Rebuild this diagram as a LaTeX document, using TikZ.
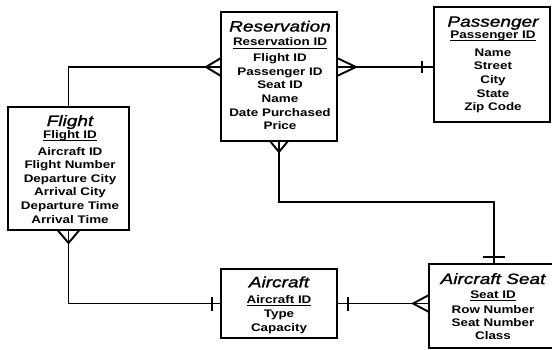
\documentclass[tikz,border=0pt]{standalone}
\usepackage{fontspec}
\setmainfont[FakeStretch=1.22]{Liberation Sans}
\newfontfamily\titlefont[FakeStretch=1.27, ItalicFeatures={FakeBold=1.3}]{Liberation Sans}
\newsavebox\kbox
\newcommand\ttl[1]{{\titlefont\fontsize{15}{15}\selectfont\mdseries\itshape #1}}
\newcommand\kyu[1]{\sbox\kbox{#1}\rlap{\rule[-3pt]{\wd\kbox}{1.2pt}}\usebox\kbox}
\newcommand\fst{\rule{0pt}{14pt}}
\begin{document}
\begin{tikzpicture}[x=1pt,y=-1pt,
  box/.style={draw, line width=2.4pt, inner sep=0pt, outer sep=0pt, anchor=north west},
  txt/.style={inner sep=0pt, outer sep=0pt, anchor=north, align=center,
    font=\bfseries\fontsize{11}{13.6}\selectfont},
  conn/.style={line width=1.9pt}]
\useasboundingbox (0,0) rectangle (552,349);

% entity boxes
\node[box, minimum width=116pt, minimum height=129pt] (res) at (221,12) {};
\node[box, minimum width=116pt, minimum height=115pt] (pas) at (434,7) {};
\node[box, minimum width=121pt, minimum height=123pt] (fl) at (8,107) {};
\node[box, minimum width=116pt, minimum height=69pt] (air) at (221,269) {};
\node[box, minimum width=126pt, minimum height=84pt] (seat) at (429,264) {};

% entity texts
\node[txt] (rest) at (280,17.5) {\fst\ttl{Reservation}\\[0.6pt]
  \kyu{Reservation ID}\\[2.4pt]
  Flight ID\\ Passenger ID\\ Seat ID\\ Name\\ Date Purchased\\ Price};
\node[txt] (past) at (493,12.7) {\fst\ttl{Passenger}\\[-2pt]
  \kyu{Passenger ID}\\[4.4pt]
  Name\\ Street\\ City\\ State\\ Zip Code};
\node[txt] (flt) at (70,112) {\fst\ttl{Flight}\\[-1.3pt]
  \kyu{Flight ID}\\[3.1pt]
  Aircraft ID\\ Flight Number\\ Departure City\\ Arrival City\\ Departure Time\\ Arrival Time};
\node[txt] (airt) at (279,273.3) {\fst\ttl{Aircraft}\\[2.4pt]
  \kyu{Aircraft ID}\\[0.4pt]
  Type\\[0.8pt] Capacity};
\node[txt] (seatt) at (493,270) {\fst\ttl{Aircraft Seat}\\[0.7pt]
  \kyu{Seat ID}\\[1.4pt]
  Row Number\\[-0.6pt] Seat Number\\[-0.6pt] Class};

% connection points
\coordinate (rW) at ([yshift=9.5pt]res.west);
\coordinate (rE) at ([yshift=9.5pt]res.east);
\coordinate (pW) at (rE -| pas.west);
\coordinate (sN) at ([xshift=2pt]seat.north);
\coordinate (sW) at (air.east -| seat.west);

% Flight -- Reservation
\draw[conn] (fl.north) |- (rW);
\draw[conn] ([yshift=9pt]rW) -- ([xshift=-15pt]rW) -- ([yshift=-9pt]rW);

% Reservation -- Passenger
\draw[conn] (rE) -- (pW);
\draw[conn] ([yshift=9pt]rE) -- ([xshift=19pt]rE) -- ([yshift=-9pt]rE);
\draw[conn] ([xshift=-12pt,yshift=6pt]pW) -- ([xshift=-12pt,yshift=-6pt]pW);

% Reservation -- Aircraft Seat
\draw[conn] (res.south) -- ++(0,61) -| (sN);
\draw[conn] ([xshift=-9pt]res.south) -- ([yshift=-11pt]res.south) -- ([xshift=9pt]res.south);
\draw[conn] ([xshift=-11pt,yshift=7pt]sN) -- ([xshift=11pt,yshift=7pt]sN);

% Flight -- Aircraft
\draw[conn] (fl.south) |- (air.west);
\draw[conn] ([xshift=-11pt]fl.south) -- ([yshift=-13pt]fl.south) -- ([xshift=11pt]fl.south);
\draw[conn] ([xshift=-9pt,yshift=7pt]air.west) -- ([xshift=-9pt,yshift=-7pt]air.west);

% Aircraft -- Aircraft Seat
\draw[conn] (air.east) -- (sW);
\draw[conn] ([xshift=11pt,yshift=7pt]air.east) -- ([xshift=11pt,yshift=-7pt]air.east);
\draw[conn] ([yshift=8.5pt]sW) -- ([xshift=-16pt]sW) -- ([yshift=-8.5pt]sW);
\end{tikzpicture}
\end{document}
